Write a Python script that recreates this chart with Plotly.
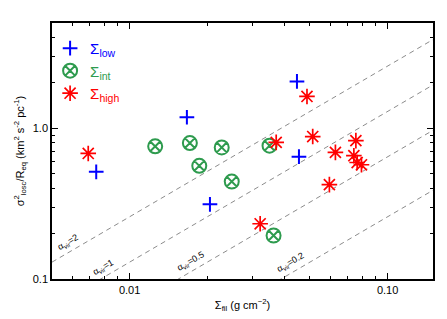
import math
import plotly.graph_objects as go

# Data
sigma_low = [0.00742, 0.01667, 0.02048, 0.04453, 0.04533]
ratio_low = [0.514, 1.184, 0.313, 2.048, 0.648]

sigma_int = [0.01256, 0.01712, 0.02275, 0.01862, 0.02488, 0.03486, 0.03614]
ratio_int = [0.759, 0.798, 0.747, 0.564, 0.443, 0.767, 0.1944]

sigma_high = [0.00691, 0.04870, 0.05126, 0.03700, 0.06277, 0.07535, 0.07401,
              0.07622, 0.07921, 0.05948, 0.03206]
ratio_high = [0.681, 1.627, 0.882, 0.807, 0.692, 0.828, 0.658,
              0.593, 0.573, 0.423, 0.2326]

alpha_vir = [2, 1, 0.5, 0.2]
alpha_label_x = [0.00598, 0.00819, 0.01785, 0.0437]
coef = 12.94  # pi*G/5 in (km^2 s^-2 pc^-1) per (g cm^-2)

x_range = [0.005, 0.15]
y_range = [0.1, 5.0]
x_ticks = [0.01, 0.1]
x_ticktext = ["0.01", "0.10"]
y_ticks = [0.1, 1.0]
y_ticktext = ["0.1", "1.0"]

FONT = "Liberation Sans, Arial, Helvetica, sans-serif"
BLUE = "#0000FF"
GREEN = "#2E9B4E"
RED = "#FF0000"

fig = go.Figure()

# virial lines
for a, lx in zip(alpha_vir, alpha_label_x):
    fig.add_trace(go.Scatter(
        x=x_range, y=[a * coef * v for v in x_range], mode="lines",
        line=dict(color="#8c8c8c", width=1, dash="5px,4px"),
        showlegend=False, hoverinfo="skip"))
    fig.add_annotation(
        x=math.log10(lx), y=math.log10(a * coef * lx), xref="x", yref="y",
        text="α<sub>vir</sub>=%g" % a, showarrow=False,
        textangle=-30, font=dict(size=9, family=FONT, color="black"),
        xshift=-4, yshift=8)

fig.add_trace(go.Scatter(
    x=sigma_low, y=ratio_low, mode="markers",
    name='<span style="color:#0000FF">Σ<sub>low</sub></span>',
    marker=dict(symbol="cross-thin-open", size=10.5,
                line=dict(color=BLUE, width=2), color=BLUE)))
fig.add_trace(go.Scatter(
    x=sigma_int, y=ratio_int, mode="markers",
    name='<span style="color:#2E9B4E">Σ<sub>int</sub></span>',
    marker=dict(symbol="circle-x-open", size=14,
                line=dict(color=GREEN, width=2), color=GREEN)))
fig.add_trace(go.Scatter(
    x=sigma_high, y=ratio_high, mode="markers",
    name='<span style="color:#FF0000">Σ<sub>high</sub></span>',
    marker=dict(symbol="asterisk-open", size=13,
                line=dict(color=RED, width=1.7), color=RED)))

axis_common = dict(
    type="log", showline=True, linecolor="black", linewidth=1.5,
    mirror="ticks", ticks="inside", ticklen=6, tickwidth=1, tickcolor="black",
    showgrid=False, zeroline=False,
    tickfont=dict(size=11, family=FONT, color="black"),
)

minor_x = [0.006, 0.007, 0.008, 0.009, 0.02, 0.03, 0.04, 0.05, 0.06, 0.07, 0.08, 0.09]
minor_y = [0.2, 0.3, 0.4, 0.5, 0.6, 0.7, 0.8, 0.9, 2, 3, 4, 5]

fig.update_xaxes(
    **axis_common, range=[-2.30103, -0.82391],
    tickmode="array", tickvals=x_ticks, ticktext=x_ticktext,
    minor=dict(tickmode="array", tickvals=minor_x, ticks="inside", ticklen=3,
               tickcolor="black", tickwidth=1),
    title=dict(text="Σ<sub>fil</sub> (g cm<sup>−2</sup>)",
               font=dict(size=11, family=FONT, color="black"), standoff=6))
fig.update_yaxes(
    **axis_common, range=[-1, 0.69897],
    tickmode="array", tickvals=y_ticks, ticktext=y_ticktext,
    minor=dict(tickmode="array", tickvals=minor_y, ticks="inside", ticklen=3,
               tickcolor="black", tickwidth=1),
    title=dict(text="σ<sup>2</sup><sub>losc</sub>/R<sub>eq</sub> (km<sup>2</sup> s<sup>-2</sup> pc<sup>-1</sup>)",
               font=dict(size=11, family=FONT, color="black"), standoff=6))

fig.update_layout(
    width=447, height=319,
    margin=dict(l=44, r=22, t=15, b=48),
    plot_bgcolor="white", paper_bgcolor="white",
    font=dict(family=FONT, color="black"),
    legend=dict(x=-0.005, y=0.965, xanchor="left", yanchor="top",
                bgcolor="rgba(0,0,0,0)", font=dict(size=15, family=FONT),
                itemwidth=30, tracegroupgap=0),
)

fig.write_html("out.html")
